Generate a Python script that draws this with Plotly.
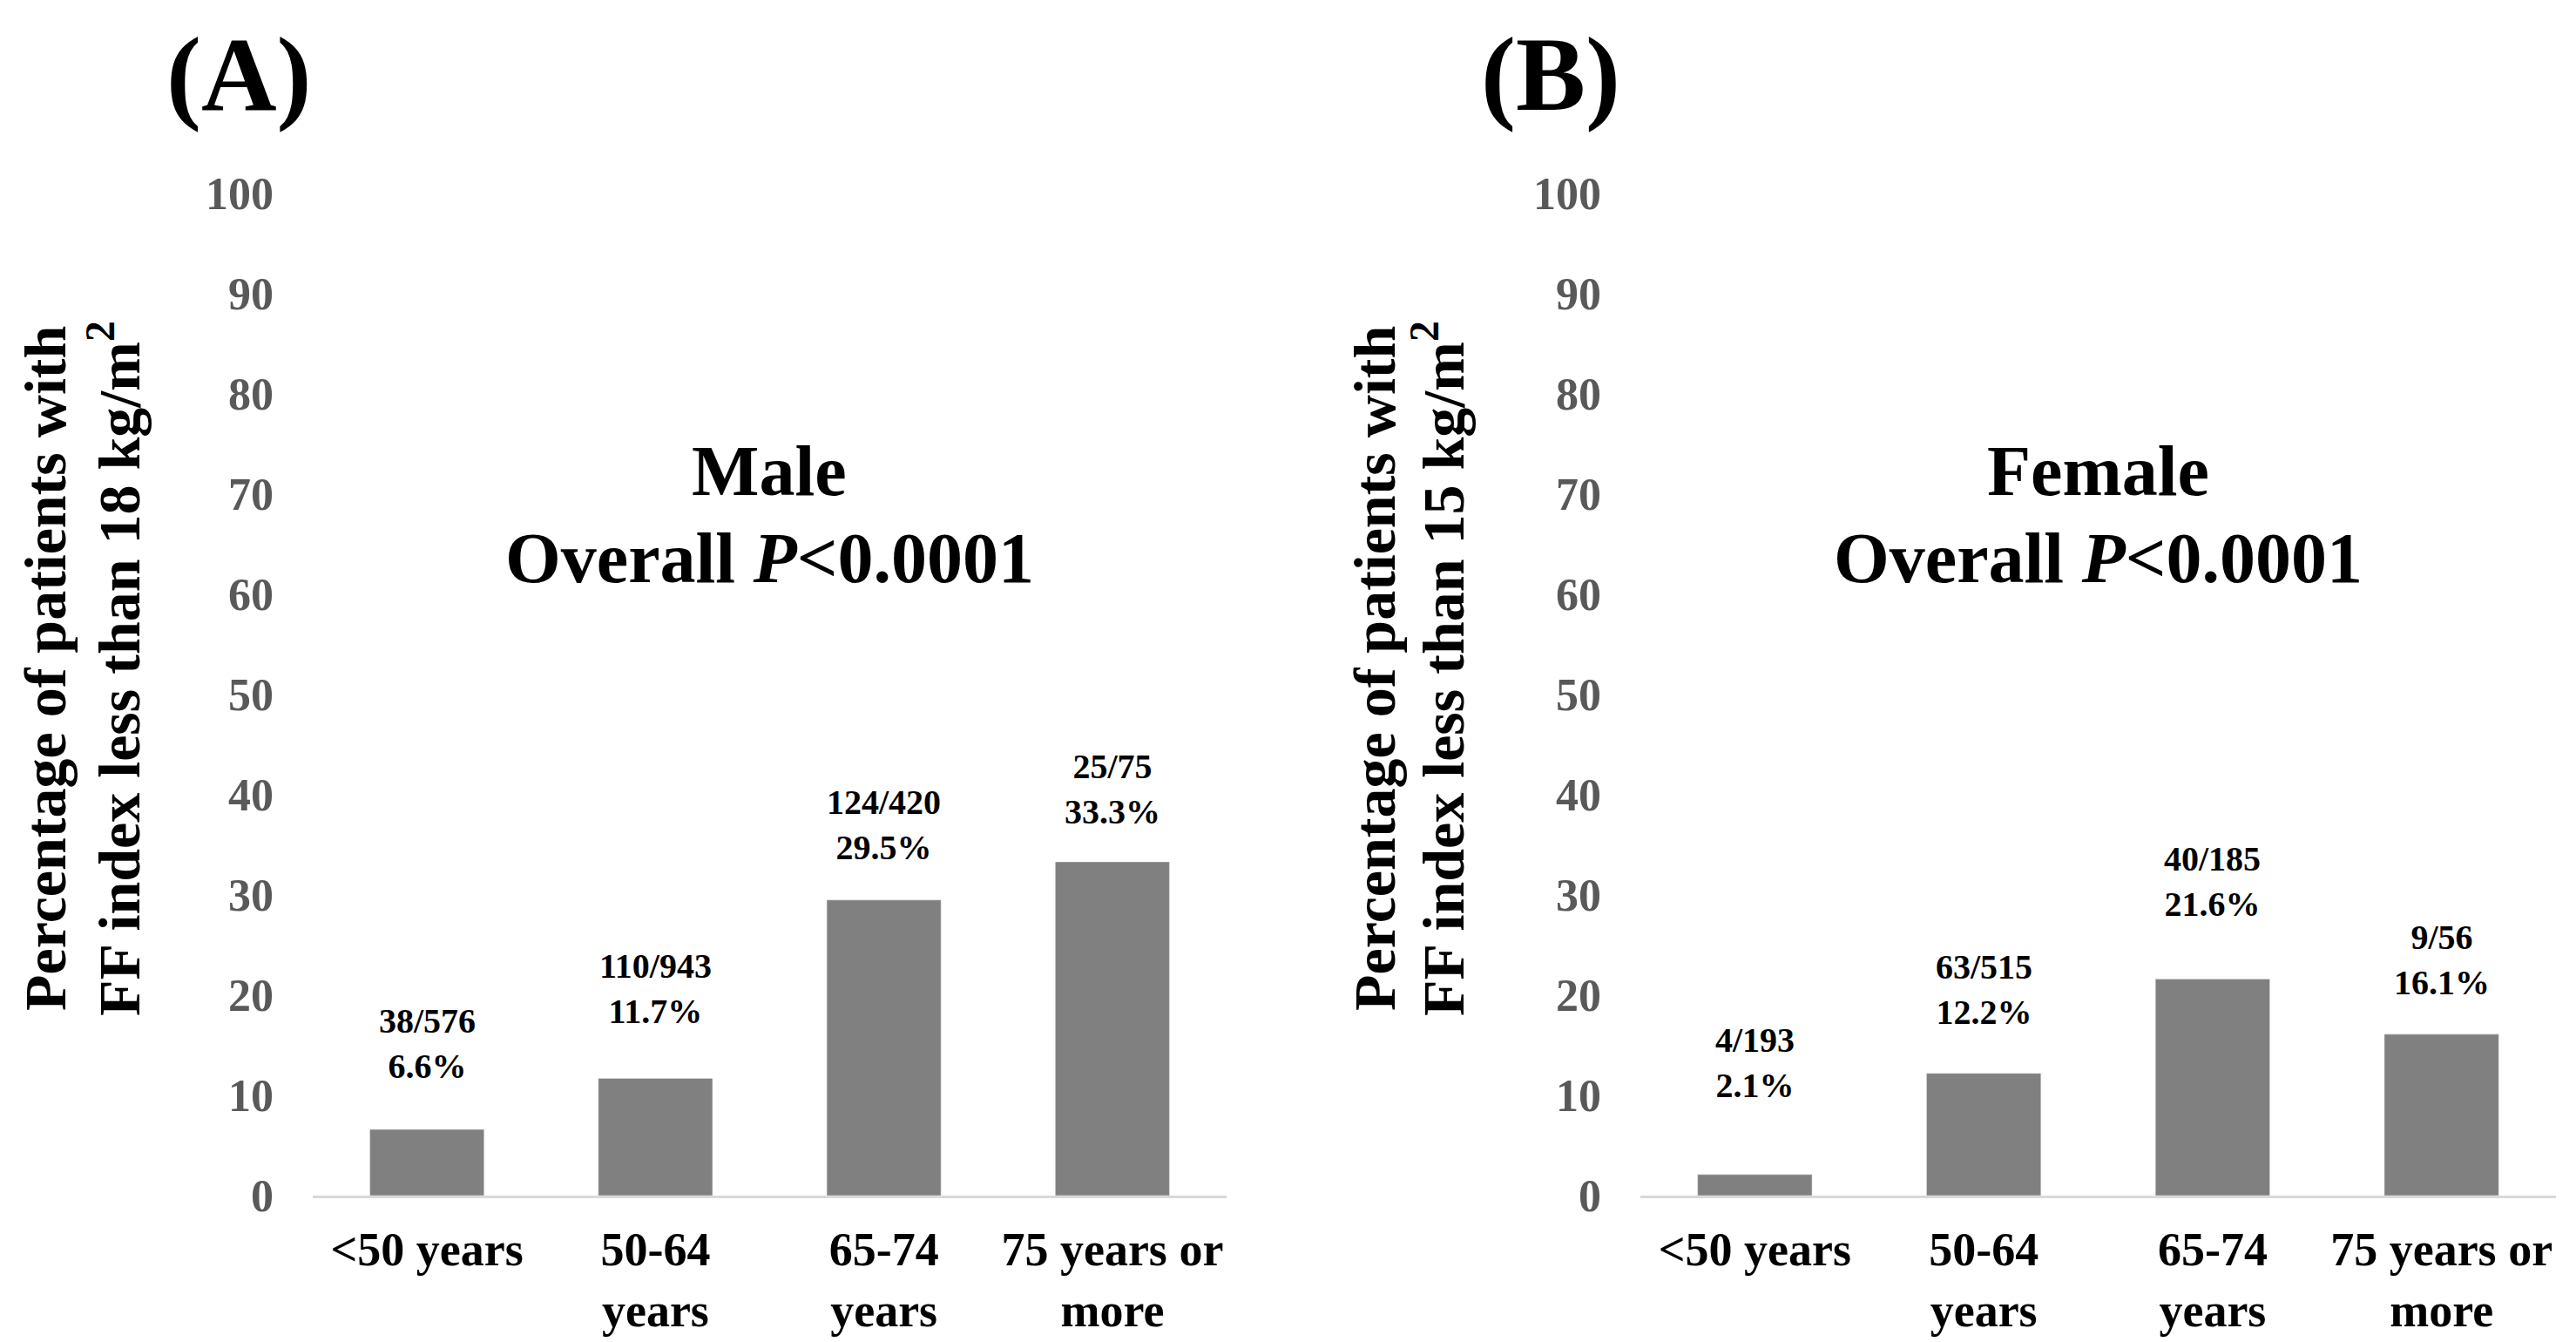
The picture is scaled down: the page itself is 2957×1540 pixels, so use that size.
import plotly.graph_objects as go

# ---- data ----
age_groups = ["<50 years", "50-64 years", "65-74 years", "75 years or more"]
age_tick_labels = ["&lt;50 years", "50-64<br>years", "65-74<br>years", "75 years or<br>more"]
male_pct = [6.6, 11.7, 29.5, 33.3]
male_counts = ["38/576", "110/943", "124/420", "25/75"]
female_pct = [2.1, 12.2, 21.6, 16.1]
female_counts = ["4/193", "63/515", "40/185", "9/56"]
y_ticks = [0, 10, 20, 30, 40, 50, 60, 70, 80, 90, 100]

# ---- styling (label lift above each bar, in pixels) ----
male_label_lift = [99, 103, 86, 84]
female_label_lift = [128, 96, 112, 85]

W, H = 2957, 1540
FONT = "Liberation Serif, Times New Roman, serif"
BAR_COLOR = "#808080"
TICK_GRAY = "#595959"

fig = go.Figure()
fig.add_trace(go.Bar(x=age_groups, y=male_pct, marker_color=BAR_COLOR,
                     xaxis="x", yaxis="y", showlegend=False, hoverinfo="skip"))
fig.add_trace(go.Bar(x=age_groups, y=female_pct, marker_color=BAR_COLOR,
                     xaxis="x2", yaxis="y2", showlegend=False, hoverinfo="skip"))

ydom = [1 - 1372 / H, 1 - 222 / H]
xdom1 = [359 / W, 1408 / W]
xdom2 = [1883 / W, 2934 / W]

xaxis_common = dict(
    type="category", tickvals=age_groups, ticktext=age_tick_labels,
    showline=True, linecolor="#d9d9d9", linewidth=3, showgrid=False,
    zeroline=False, ticks="", ticklabelstandoff=12, automargin=False,
    tickfont=dict(family=FONT, size=54, color="black", weight="bold"),
)
yaxis_common = dict(
    range=[0, 100], tickvals=y_ticks, showgrid=False, zeroline=False,
    showline=False, ticks="", ticklabelstandoff=44, automargin=False,
    tickfont=dict(family=FONT, size=52, color=TICK_GRAY, weight="bold"),
)

fig.update_layout(
    width=W, height=H, margin=dict(l=0, r=0, t=0, b=0, autoexpand=False),
    paper_bgcolor="white", plot_bgcolor="white", bargap=0.5,
    xaxis=dict(domain=xdom1, anchor="y", **xaxis_common),
    yaxis=dict(domain=ydom, anchor="x", **yaxis_common),
    xaxis2=dict(domain=xdom2, anchor="y2", **xaxis_common),
    yaxis2=dict(domain=ydom, anchor="x2", **yaxis_common),
)

annotations = []
# bar labels
for xr, yr, pcts, counts, lifts in [("x", "y", male_pct, male_counts, male_label_lift),
                                    ("x2", "y2", female_pct, female_counts, female_label_lift)]:
    for cat, p, c, lift in zip(age_groups, pcts, counts, lifts):
        annotations.append(dict(
            x=cat, y=p, xref=xr, yref=yr, showarrow=False,
            text=f"<b>{c}<br>{p:.1f}%</b>", yanchor="middle", yshift=lift,
            font=dict(family=FONT, size=40, color="black"),
        ))

# panel titles
for cx, sex in [((xdom1[0] + xdom1[1]) / 2, "Male"), ((xdom2[0] + xdom2[1]) / 2, "Female")]:
    annotations.append(dict(x=cx, y=1 - 540 / H, xref="paper", yref="paper", showarrow=False,
                            text=f"<b>{sex}</b>", xanchor="center", yanchor="middle",
                            font=dict(family=FONT, size=82, color="black")))
    annotations.append(dict(x=cx, y=1 - 640 / H, xref="paper", yref="paper", showarrow=False,
                            text="<b>Overall <i>P</i>&lt;0.0001</b>", xanchor="center", yanchor="middle",
                            font=dict(family=FONT, size=82, color="black")))

# panel letters
for cx, lab in [(274 / W, "(A)"), (1780 / W, "(B)")]:
    annotations.append(dict(x=cx, y=1 - 86 / H, xref="paper", yref="paper", showarrow=False,
                            text=f"<b>{lab}</b>", xanchor="center", yanchor="middle",
                            font=dict(family=FONT, size=120, color="black")))

# y-axis titles (two rotated lines each)
for x1, x2, thr in [(52, 132, 18), (1578, 1652, 15)]:
    annotations.append(dict(x=x1 / W, y=1 - 767 / H, xref="paper", yref="paper", showarrow=False,
                            text="<b>Percentage of patients with</b>", textangle=-90,
                            xanchor="center", yanchor="middle",
                            font=dict(family=FONT, size=68, color="black")))
    annotations.append(dict(x=x2 / W, y=1 - 767 / H, xref="paper", yref="paper", showarrow=False,
                            text=f"<b>FF index less than {thr} kg/m<sup>2</sup></b>", textangle=-90,
                            xanchor="center", yanchor="middle",
                            font=dict(family=FONT, size=68, color="black")))

fig.update_layout(annotations=annotations)
fig.write_html("out.html", config={"displayModeBar": False},
               post_script="document.body.style.margin='0px';")
